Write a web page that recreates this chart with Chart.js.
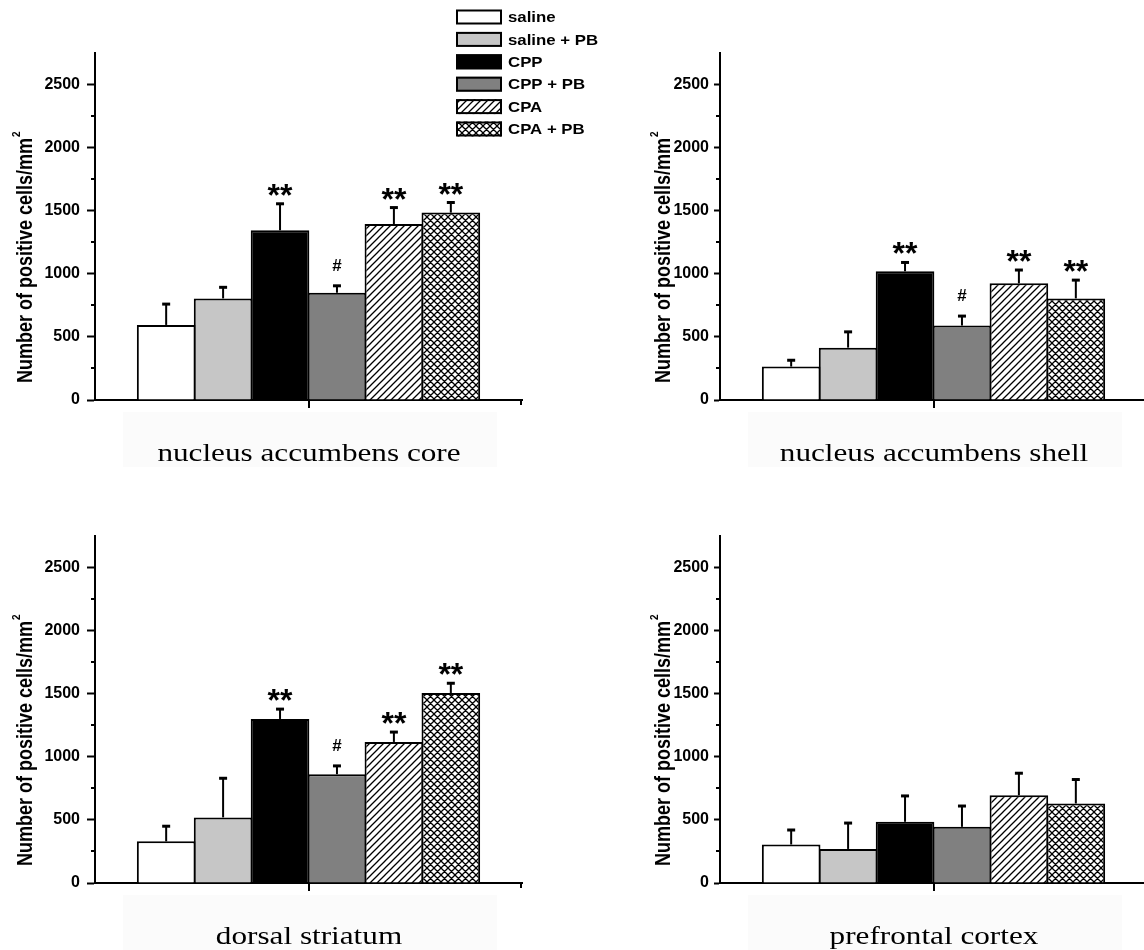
<!DOCTYPE html>
<html>
<head>
<meta charset="utf-8">
<script src="https://cdn.jsdelivr.net/npm/chart.js@4.4.0/dist/chart.umd.min.js"></script>
<style>
  html, body { margin: 0; padding: 0; background: #fff; }
  body { width: 1144px; height: 950px; overflow: hidden; position: relative; }
  canvas { position: absolute; }
</style>
</head>
<body>
<canvas id="core" width="620" height="467" style="left:0;top:0"></canvas>
<canvas id="shell" width="620" height="467" style="left:625px;top:0"></canvas>
<canvas id="dorsal" width="620" height="467" style="left:0;top:483px"></canvas>
<canvas id="prefrontal" width="620" height="467" style="left:625px;top:483px"></canvas>
<script>
// Treatment groups (one bar each) and brain regions (one panel each)
const groups = ['saline', 'saline + PB', 'CPP', 'CPP + PB', 'CPA', 'CPA + PB'];
const regions = ['nucleus accumbens core', 'nucleus accumbens shell', 'dorsal striatum', 'prefrontal cortex'];

// Y axis labelled ticks and the unlabelled minor ticks between them
const yTickValues = [0, 500, 1000, 1500, 2000, 2500];
const yMinorValues = [250, 750, 1250, 1750, 2250];
const yMax = 2750;
const yTitle = 'Number of positive cells/mm';

// Mean number of positive cells/mm² with SEM and significance marks
const coreMean = [595, 805, 1345, 850, 1395, 1485];
const coreSem = [165, 88, 210, 55, 130, 80];
const coreSig = ['', '', '**', '#', '**', '**'];

const shellMean = [265, 415, 1020, 590, 925, 805];
const shellSem = [50, 125, 70, 75, 105, 145];
const shellSig = ['', '', '**', '#', '**', '**'];

const dorsalMean = [330, 520, 1300, 862, 1118, 1506];
const dorsalSem = [120, 310, 78, 66, 78, 77];
const dorsalSig = ['', '', '**', '#', '**', '**'];

const prefrontalMean = [305, 270, 485, 445, 695, 630];
const prefrontalSem = [115, 205, 205, 165, 175, 190];
const prefrontalSig = ['', '', '', '', '', ''];

// Fill patterns: diagonal hatch and cross hatch on white
function makeHatch(cross) {
  const s = 7;
  const c = document.createElement('canvas');
  c.width = s; c.height = s;
  const g = c.getContext('2d');
  g.fillStyle = '#fff';
  g.fillRect(0, 0, s, s);
  g.strokeStyle = '#000';
  g.lineWidth = 1.3;
  g.beginPath();
  g.moveTo(-1, s + 1); g.lineTo(s + 1, -1);
  g.moveTo(-1, 1); g.lineTo(1, -1);
  g.moveTo(s - 1, s + 1); g.lineTo(s + 1, s - 1);
  if (cross) {
    g.moveTo(-1, -1); g.lineTo(s + 1, s + 1);
    g.moveTo(s - 1, -1); g.lineTo(s + 1, 1);
    g.moveTo(-1, s - 1); g.lineTo(1, s + 1);
  }
  g.stroke();
  return g.createPattern(c, 'repeat');
}
const fills = ['#ffffff', '#c6c6c6', '#000000', '#808080', makeHatch(false), makeHatch(true)];

const SANS = '"Liberation Sans", Arial, sans-serif';
const SERIF = '"Liberation Serif", "Times New Roman", serif';

const decor = {
  id: 'decor',
  beforeDraw(chart, args, o) {
    const ctx = chart.ctx, a = chart.chartArea;
    // faint caption panel under the axis
    ctx.save();
    ctx.fillStyle = '#fbfbfb';
    ctx.fillRect(a.left + 28, a.bottom + 12, a.right - a.left - 53, 80);
    ctx.restore();
  },
  afterDatasetsDraw(chart, args, o) {
    const ctx = chart.ctx, ys = chart.scales.y;
    ctx.save();
    ctx.strokeStyle = '#000';
    ctx.fillStyle = '#000';
    chart.data.datasets.forEach((ds, i) => {
      const bar = chart.getDatasetMeta(i).data[0];
      const v = ds.data[0];
      const top = ys.getPixelForValue(v + o.sem[i]);
      ctx.lineWidth = 2;
      ctx.beginPath(); ctx.moveTo(bar.x, bar.y); ctx.lineTo(bar.x, top); ctx.stroke();
      ctx.lineWidth = 3;
      ctx.beginPath(); ctx.moveTo(bar.x - 4, top); ctx.lineTo(bar.x + 4, top); ctx.stroke();
      const mark = o.marks[i];
      if (mark) {
        const star = mark === '**';
        ctx.font = 'bold ' + (star ? 32 : 17) + 'px ' + SANS;
        ctx.textAlign = 'center';
        ctx.textBaseline = 'alphabetic';
        const m = ctx.measureText(mark);
        const gap = star ? 8 : 15;
        ctx.fillText(mark, bar.x, top - gap - m.actualBoundingBoxDescent);
      }
    });
    ctx.restore();
  },
  afterDraw(chart, args, o) {
    const ctx = chart.ctx, a = chart.chartArea, ys = chart.scales.y, xs = chart.scales.x;
    ctx.save();
    ctx.strokeStyle = '#000';
    ctx.fillStyle = '#000';
    ctx.lineWidth = 2;
    // minor y ticks
    ctx.beginPath();
    yMinorValues.forEach(v => {
      const y = Math.round(ys.getPixelForValue(v));
      ctx.moveTo(a.left - 4, y); ctx.lineTo(a.left, y);
    });
    // centre tick and end tick on the x axis
    const cx = Math.round(xs.getPixelForValue(0));
    ctx.moveTo(cx, a.bottom); ctx.lineTo(cx, a.bottom + 8);
    ctx.moveTo(a.right - 1, a.bottom); ctx.lineTo(a.right - 1, a.bottom + 5);
    ctx.stroke();

    // rotated y axis title with superscript
    ctx.save();
    ctx.translate(o.titleX, 383);
    ctx.rotate(-Math.PI / 2);
    ctx.scale(1, 1.18);
    ctx.textAlign = 'left';
    ctx.textBaseline = 'alphabetic';
    ctx.font = 'bold 18px ' + SANS;
    ctx.fillText(yTitle, 0, 0);
    const w = ctx.measureText(yTitle).width;
    ctx.font = 'bold 10px ' + SANS;
    ctx.fillText('2', w + 1, -10);
    ctx.restore();

    // region caption
    ctx.save();
    ctx.translate(cx, 461);
    ctx.scale(1.2, 1);
    ctx.font = '26px ' + SERIF;
    ctx.textAlign = 'center';
    ctx.textBaseline = 'alphabetic';
    ctx.fillText(chart.data.labels[0], 0, 0);
    ctx.restore();

    // group legend
    if (o.legend) {
      chart.data.datasets.forEach((ds, i) => {
        const bx = 456, by = 9.5 + i * 22.4, bw = 46, bh = 15;
        ctx.fillStyle = ds.backgroundColor;
        ctx.fillRect(bx, by, bw, bh);
        ctx.lineWidth = 2;
        ctx.strokeStyle = '#000';
        ctx.strokeRect(bx + 1, by + 1, bw - 2, bh - 2);
        ctx.save();
        ctx.translate(508, by + bh / 2 + 1);
        ctx.scale(1.12, 1);
        ctx.fillStyle = '#000';
        ctx.font = 'bold 15px ' + SANS;
        ctx.textAlign = 'left';
        ctx.textBaseline = 'middle';
        ctx.fillText(ds.label, 0, 0);
        ctx.restore();
      });
    }
    ctx.restore();
  }
};

function panel(id, region, mean, sem, marks, left, legend) {
  const datasets = groups.map((g, i) => ({
    label: g,
    data: [mean[i]],
    backgroundColor: fills[i],
    borderColor: '#000',
    borderWidth: 2,
    borderSkipped: 'start',
    categoryPercentage: 0.8,
    barPercentage: 1.03
  }));
  return new Chart(document.getElementById(id), {
    type: 'bar',
    data: { labels: [region], datasets },
    plugins: [decor],
    options: {
      responsive: false,
      animation: false,
      layout: { padding: { left: 0, top: 53, right: 98, bottom: 47 } },
      plugins: {
        legend: { display: false },
        tooltip: { enabled: false },
        decor: { sem, marks, legend, titleX: left ? 32 : 45 }
      },
      scales: {
        x: {
          type: 'category',
          grid: { display: false },
          border: { display: true, color: '#000', width: 2 },
          ticks: { display: false },
          afterFit(s) { s.height = 20; }
        },
        y: {
          min: 0,
          max: yMax,
          afterBuildTicks(s) { s.ticks = yTickValues.map(v => ({ value: v })); },
          grid: {
            display: true, drawOnChartArea: false, drawTicks: true,
            tickLength: left ? 8 : 6, tickWidth: 2, tickColor: '#000'
          },
          border: { display: true, color: '#000', width: 2 },
          ticks: {
            padding: left ? 7 : 5,
            color: '#000',
            font: { family: SANS, weight: 'bold', size: 16 },
            callback: v => String(v)
          },
          afterFit(s) { s.width = 95; }
        }
      }
    }
  });
}

panel('core', regions[0], coreMean, coreSem, coreSig, true, true);
panel('shell', regions[1], shellMean, shellSem, shellSig, false, false);
panel('dorsal', regions[2], dorsalMean, dorsalSem, dorsalSig, true, false);
panel('prefrontal', regions[3], prefrontalMean, prefrontalSem, prefrontalSig, false, false);
</script>
</body>
</html>
